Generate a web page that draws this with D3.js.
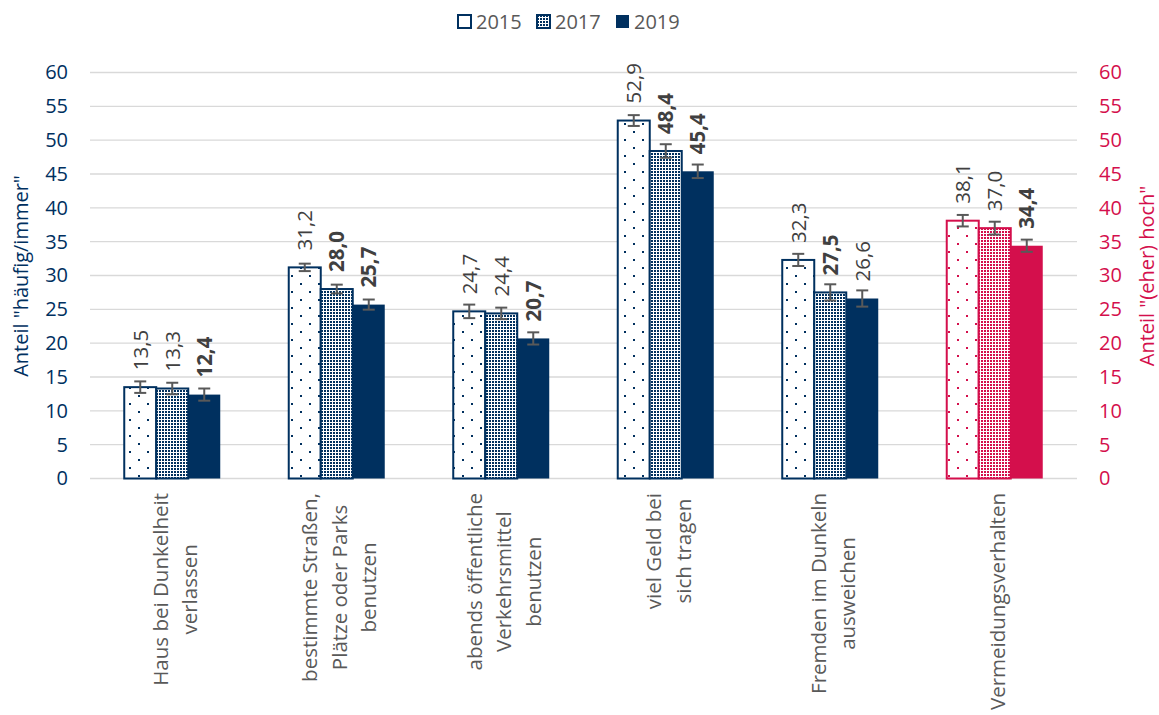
<!DOCTYPE html>
<html>
<head>
<meta charset="utf-8">
<script src="https://cdn.jsdelivr.net/npm/d3@7"></script>
<style>
  html, body { margin: 0; padding: 0; background: #fff; }
  svg { display: block; font-family: "Open Sans", "Noto Sans", sans-serif; }
</style>
</head>
<body>
<svg id="chart" width="1159" height="715"></svg>
<script>
// Categories (line breaks as shown on the axis)
const categories = [
  ["Haus bei Dunkelheit", "verlassen"],
  ["bestimmte Straßen,", "Plätze oder Parks", "benutzen"],
  ["abends öffentliche", "Verkehrsmittel", "benutzen"],
  ["viel Geld bei", "sich tragen"],
  ["Fremden im Dunkeln", "ausweichen"],
  ["Vermeidungsverhalten"]
];
const years = ["2015", "2017", "2019"];

// Shares in percent per year
const values2015 = [13.5, 31.2, 24.7, 52.9, 32.3, 38.1];
const values2017 = [13.3, 28.0, 24.4, 48.4, 27.5, 37.0];
const values2019 = [12.4, 25.7, 20.7, 45.4, 26.6, 34.4];

// Half-width of the confidence intervals
const err2015 = [0.85, 0.55, 1.0, 0.8, 0.9, 0.85];
const err2017 = [0.85, 0.65, 0.85, 1.0, 1.2, 0.95];
const err2019 = [0.9, 0.75, 0.9, 1.0, 1.2, 0.9];

// Labels printed in bold
const bold2015 = [false, false, false, false, false, false];
const bold2017 = [false, true, false, true, true, false];
const bold2019 = [true, true, true, true, false, true];

const yTicks = [0, 5, 10, 15, 20, 25, 30, 35, 40, 45, 50, 55, 60];

const NAVY = "#00305f";
const RED = "#d40f4c";
const GRID = "#d9d9d9";
const TEXT = "#595959";

const series = [
  { year: "2015", values: values2015, err: err2015, bold: bold2015, fill: "sparse" },
  { year: "2017", values: values2017, err: err2017, bold: bold2017, fill: "dense" },
  { year: "2019", values: values2019, err: err2019, bold: bold2019, fill: "solid" }
];

const svg = d3.select("#chart");
const plot = { left: 90, right: 1077, top: 72.5, bottom: 478.5 };

// Hatch patterns
const defs = svg.append("defs");
function makePatterns(name, color) {
  const sp = defs.append("pattern").attr("id", "sparse-" + name)
    .attr("patternUnits", "userSpaceOnUse").attr("width", 18).attr("height", 16);
  sp.append("rect").attr("width", 18).attr("height", 16).attr("fill", "#fff");
  sp.append("rect").attr("x", 3).attr("y", 3).attr("width", 2).attr("height", 2).attr("fill", color);
  sp.append("rect").attr("x", 12).attr("y", 11).attr("width", 2).attr("height", 2).attr("fill", color);

  const dn = defs.append("pattern").attr("id", "dense-" + name)
    .attr("patternUnits", "userSpaceOnUse").attr("width", 3).attr("height", 3);
  dn.append("rect").attr("width", 3).attr("height", 3).attr("fill", "#fff");
  dn.append("rect").attr("x", 0).attr("y", 0).attr("width", 2).attr("height", 2).attr("fill", color);

  const lg = defs.append("pattern").attr("id", "legdot-" + name)
    .attr("patternUnits", "userSpaceOnUse").attr("width", 15).attr("height", 15);
  lg.append("rect").attr("width", 15).attr("height", 15).attr("fill", "#fff");
  lg.append("rect").attr("x", 6.5).attr("y", 6.5).attr("width", 2).attr("height", 2).attr("fill", color);
}
makePatterns("navy", NAVY);
makePatterns("red", RED);

const x0 = d3.scaleBand()
  .domain(d3.range(categories.length))
  .range([plot.left, plot.right])
  .paddingInner(0.4164)
  .paddingOuter(0.2082);
const x1 = d3.scaleBand().domain(years).range([0, x0.bandwidth()]);
const yL = d3.scaleLinear().domain([0, 60]).range([plot.bottom, plot.top]);
const yR = d3.scaleLinear().domain([0, 60]).range([plot.bottom, plot.top]);

// Gridlines
svg.append("g").selectAll("line").data(yTicks).join("line")
  .attr("x1", plot.left).attr("x2", plot.right)
  .attr("y1", d => yL(d)).attr("y2", d => yL(d))
  .attr("stroke", GRID).attr("stroke-width", 1.3);

// Left axis
const axL = svg.append("g").attr("transform", `translate(${plot.left},0)`)
  .call(d3.axisLeft(yL).tickValues(yTicks).tickSize(0).tickPadding(22).tickFormat(d3.format("d")));
axL.select(".domain").remove();
axL.selectAll("text").attr("fill", NAVY).style("font-size", "20px")
  .style("font-family", "'Open Sans', sans-serif");

// Right axis
const axR = svg.append("g").attr("transform", `translate(${plot.right},0)`)
  .call(d3.axisRight(yR).tickValues(yTicks).tickSize(0).tickPadding(22).tickFormat(d3.format("d")));
axR.select(".domain").remove();
axR.selectAll("text").attr("fill", RED).style("font-size", "20px")
  .style("font-family", "'Open Sans', sans-serif");

// Axis titles
svg.append("text")
  .attr("transform", `translate(21,276) rotate(-90)`)
  .attr("text-anchor", "middle").attr("dy", "0.35em")
  .attr("fill", NAVY).style("font-size", "20px")
  .text('Anteil "häufig/immer"');
svg.append("text")
  .attr("transform", `translate(1147,276) rotate(-90)`)
  .attr("text-anchor", "middle").attr("dy", "0.35em")
  .attr("fill", RED).style("font-size", "20px")
  .text('Anteil "(eher) hoch"');

// Bars
const lastIdx = categories.length - 1;
const colorFor = i => (i === lastIdx ? RED : NAVY);
const keyFor = i => (i === lastIdx ? "red" : "navy");

const barData = [];
series.forEach(s => {
  s.values.forEach((v, i) => {
    barData.push({ i, year: s.year, v, e: s.err[i], bold: s.bold[i], fill: s.fill });
  });
});

const scaleFor = d => (d.i === lastIdx ? yR : yL);

const bars = svg.append("g");
bars.selectAll("rect").data(barData).join("rect")
  .attr("x", d => x0(d.i) + x1(d.year))
  .attr("y", d => scaleFor(d)(d.v))
  .attr("width", x1.bandwidth())
  .attr("height", d => scaleFor(d)(0) - scaleFor(d)(d.v))
  .attr("fill", d => d.fill === "solid" ? colorFor(d.i) : `url(#${d.fill}-${keyFor(d.i)})`)
  .attr("stroke", d => d.fill === "solid" ? "none" : colorFor(d.i))
  .attr("stroke-width", 2);

// Error bars
const errG = svg.append("g").attr("stroke", "#595959").attr("stroke-width", 2).attr("fill", "none");
barData.forEach(d => {
  const cx = x0(d.i) + x1(d.year) + x1.bandwidth() / 2;
  const y = scaleFor(d);
  const y1 = y(d.v + d.e), y2 = y(d.v - d.e);
  errG.append("line").attr("x1", cx).attr("x2", cx).attr("y1", y1).attr("y2", y2);
  errG.append("line").attr("x1", cx - 6).attr("x2", cx + 6).attr("y1", y1).attr("y2", y1);
  errG.append("line").attr("x1", cx - 6).attr("x2", cx + 6).attr("y1", y2).attr("y2", y2);
});

// Value labels at a fixed distance above the bar end
const fmt = v => d3.format(".1f")(v).replace(".", ",");
svg.append("g").selectAll("text").data(barData).join("text")
  .attr("transform", d => {
    const cx = x0(d.i) + x1(d.year) + x1.bandwidth() / 2;
    return `translate(${cx},${scaleFor(d)(d.v) - 17}) rotate(-90)`;
  })
  .attr("text-anchor", "start").attr("dy", "0.36em")
  .attr("fill", "#404040")
  .style("font-size", "20.5px")
  .style("font-weight", d => d.bold ? "700" : "400")
  .text(d => fmt(d.v));

// Category labels: rotated, lines centred on each other, block starts below axis
const LINE = 29.5;
const catG = svg.append("g");
categories.forEach((lines, i) => {
  const c = x0(i) + x0.bandwidth() / 2;
  const g = catG.append("g").attr("transform", `translate(${c},493) rotate(-90)`);
  const texts = lines.map((t, k) => g.append("text")
    .attr("text-anchor", "middle")
    .attr("fill", TEXT)
    .style("font-size", "20.5px")
    .attr("y", (k - (lines.length - 1) / 2) * LINE + 10)
    .text(t));
  const maxLen = d3.max(texts, t => t.node().getComputedTextLength());
  texts.forEach(t => t.attr("x", -maxLen / 2));
});

// Legend
const legend = svg.append("g");
const legItems = [
  { label: "2015", x: 457, fill: "url(#legdot-navy)", stroke: NAVY },
  { label: "2017", x: 536, fill: "url(#dense-navy)", stroke: NAVY },
  { label: "2019", x: 615, fill: NAVY, stroke: "none" }
];
legItems.forEach(it => {
  legend.append("rect").attr("x", it.x + 1).attr("y", 15).attr("width", 13).attr("height", 13)
    .attr("fill", it.fill).attr("stroke", it.stroke).attr("stroke-width", 2);
  legend.append("text").attr("x", it.x + 19).attr("y", 22).attr("dy", "0.35em")
    .attr("fill", TEXT).style("font-size", "20px").text(it.label);
});
</script>
</body>
</html>
